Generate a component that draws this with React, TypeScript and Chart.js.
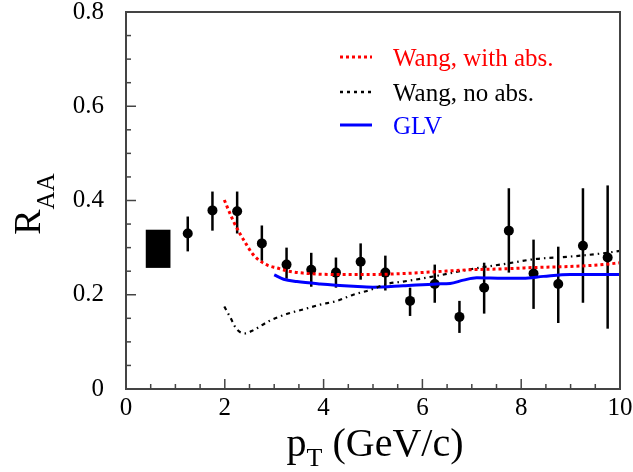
import React, { useEffect, useRef } from "react";
import { Chart, registerables } from "chart.js";

Chart.register(...registerables);

// ---- Data ----
const ptBins = [1.25, 1.75, 2.25, 2.75, 3.25, 3.75, 4.25, 4.75, 5.25, 5.75, 6.25, 6.75, 7.25, 7.75, 8.25, 8.75, 9.25, 9.75];
const raaValues = [0.33, 0.379, 0.377, 0.309, 0.264, 0.253, 0.247, 0.27, 0.247, 0.187, 0.223, 0.153, 0.215, 0.336, 0.245, 0.223, 0.304, 0.279];
const raaErrLow = [0.292, 0.336, 0.33, 0.272, 0.234, 0.217, 0.215, 0.232, 0.209, 0.155, 0.183, 0.119, 0.16, 0.247, 0.17, 0.14, 0.183, 0.128];
const raaErrHigh = [0.366, 0.419, 0.419, 0.347, 0.3, 0.289, 0.279, 0.309, 0.283, 0.215, 0.264, 0.187, 0.268, 0.426, 0.317, 0.302, 0.426, 0.432];

// normalisation uncertainty box: [ptMin, ptMax, raaMin, raaMax]
const normBox = [0.4, 0.9, 0.257, 0.338];

const wangAbsPt = [1.99, 2.17, 2.31, 2.43, 2.56, 2.71, 2.88, 3.05, 3.25, 3.58, 4.26, 4.94, 5.61, 6.29, 6.96, 7.64, 8.31, 8.99, 9.66, 10.0];
const wangAbsRaa = [0.401, 0.357, 0.329, 0.308, 0.287, 0.272, 0.262, 0.257, 0.251, 0.246, 0.243, 0.243, 0.245, 0.249, 0.253, 0.255, 0.258, 0.26, 0.264, 0.268];

const wangNoAbsPt = [1.99, 2.11, 2.24, 2.41, 2.58, 2.91, 3.25, 3.59, 3.93, 4.27, 4.6, 4.97, 5.28, 5.61, 6.29, 6.96, 7.64, 8.31, 8.99, 9.66, 10.0];
const wangNoAbsRaa = [0.175, 0.152, 0.127, 0.118, 0.125, 0.145, 0.159, 0.169, 0.179, 0.187, 0.2, 0.211, 0.223, 0.228, 0.24, 0.254, 0.265, 0.276, 0.281, 0.288, 0.293];

const glvPt = [3.0, 3.19, 3.46, 3.93, 4.6, 5.0, 5.61, 6.29, 6.56, 6.83, 7.1, 7.64, 8.04, 8.45, 8.99, 10.0];
const glvRaa = [0.242, 0.233, 0.228, 0.223, 0.218, 0.216, 0.219, 0.223, 0.224, 0.231, 0.236, 0.235, 0.235, 0.239, 0.243, 0.243];

const legendLabels = ["Wang, with abs.", "Wang, no abs.", "GLV"];
const legendColors = ["#ff0000", "#000000", "#0000ff"];

const xMin = 0, xMax = 10, xMajor = 2, xMinor = 0.5;
const yMin = 0, yMax = 0.8, yMajor = 0.2, yMinor = 0.05;

const FONT = "'Liberation Serif', 'Times New Roman', serif";
const BLACK_DASH = [4, 4, 1.5, 4];
const RED_DASH = [3, 3];

const toXY = (xs: number[], ys: number[]) => xs.map((x, i) => ({ x, y: ys[i] }));

const decorPlugin = {
  id: "decor",
  beforeDatasetsDraw(chart: any) {
    const { ctx, scales } = chart;
    const xs = scales.x, ys = scales.y;
    ctx.save();
    // normalisation box
    const bx0 = xs.getPixelForValue(normBox[0]);
    const bx1 = xs.getPixelForValue(normBox[1]);
    const by0 = ys.getPixelForValue(normBox[2]);
    const by1 = ys.getPixelForValue(normBox[3]);
    ctx.fillStyle = "#000";
    ctx.fillRect(bx0, by1, bx1 - bx0, by0 - by1);
    // error bars
    ctx.strokeStyle = "#000";
    ctx.lineWidth = 2.5;
    ptBins.forEach((pt, i) => {
      const px = xs.getPixelForValue(pt);
      ctx.beginPath();
      ctx.moveTo(px, ys.getPixelForValue(raaErrLow[i]));
      ctx.lineTo(px, ys.getPixelForValue(raaErrHigh[i]));
      ctx.stroke();
    });
    ctx.restore();
  },
  afterDraw(chart: any) {
    const { ctx, chartArea, scales } = chart;
    const { left, right, top, bottom } = chartArea;
    const xs = scales.x, ys = scales.y;
    ctx.save();
    // frame
    ctx.strokeStyle = "#444";
    ctx.lineWidth = 2;
    ctx.strokeRect(left, top, right - left, bottom - top);
    // x ticks
    ctx.lineWidth = 1.5;
    for (let v = xMin; v <= xMax + 1e-9; v += xMinor) {
      const px = xs.getPixelForValue(v);
      const major = Math.abs(v / xMajor - Math.round(v / xMajor)) < 1e-6;
      const len = major ? 10 : 5;
      ctx.beginPath();
      ctx.moveTo(px, bottom);
      ctx.lineTo(px, bottom - len);
      ctx.stroke();
    }
    for (let v = yMin; v <= yMax + 1e-9; v += yMinor) {
      const py = ys.getPixelForValue(v);
      const major = Math.abs(v / yMajor - Math.round(v / yMajor)) < 1e-6;
      const len = major ? 10 : 5;
      ctx.beginPath();
      ctx.moveTo(left, py);
      ctx.lineTo(left + len, py);
      ctx.stroke();
    }

    // legend
    const lx0 = left + 214, lx1 = left + 246, tx = left + 267;
    const rows = [top + 45, top + 80, top + 113];
    const dashes = [RED_DASH, [3, 4], []];
    const widths = [3, 2.5, 3];
    legendLabels.forEach((lab, i) => {
      ctx.strokeStyle = legendColors[i];
      ctx.lineWidth = widths[i];
      ctx.setLineDash(dashes[i]);
      ctx.beginPath();
      ctx.moveTo(lx0, rows[i]);
      ctx.lineTo(lx1, rows[i]);
      ctx.stroke();
      ctx.setLineDash([]);
      ctx.fillStyle = legendColors[i];
      ctx.font = `25px ${FONT}`;
      ctx.textAlign = "left";
      ctx.textBaseline = "alphabetic";
      ctx.fillText(lab, tx, rows[i] + 9);
    });

    // x-axis title: p_T (GeV/c)
    ctx.fillStyle = "#000";
    ctx.textAlign = "left";
    ctx.textBaseline = "alphabetic";
    const xtY = bottom + 67;
    ctx.font = `40px ${FONT}`;
    const pW = ctx.measureText("p").width;
    ctx.font = `26px ${FONT}`;
    const tW = ctx.measureText("T").width;
    ctx.font = `40px ${FONT}`;
    const restW = ctx.measureText(" (GeV/c)").width;
    const total = pW + tW + restW;
    let cx = (left + right) / 2 - total / 2 + 2;
    ctx.fillText("p", cx, xtY);
    cx += pW;
    ctx.font = `26px ${FONT}`;
    ctx.fillText("T", cx, xtY + 10);
    cx += tW;
    ctx.font = `40px ${FONT}`;
    ctx.fillText(" (GeV/c)", cx, xtY);

    // y-axis title: R_AA
    ctx.save();
    ctx.translate(40, 0);
    ctx.rotate(-Math.PI / 2);
    ctx.font = `38px ${FONT}`;
    const rW = ctx.measureText("R").width;
    ctx.font = `25px ${FONT}`;
    const aW = ctx.measureText("AA").width;
    const yc = 204;
    const start = -(yc + (rW + aW) / 2);
    ctx.font = `38px ${FONT}`;
    ctx.fillText("R", start, 0);
    ctx.font = `25px ${FONT}`;
    ctx.fillText("AA", start + rW, 14);
    ctx.restore();

    ctx.restore();
  },
};

export default function App() {
  const ref = useRef<HTMLCanvasElement | null>(null);

  useEffect(() => {
    if (!ref.current) return;
    const chart = new Chart(ref.current, {
      type: "scatter",
      data: {
        datasets: [
          {
            label: legendLabels[0],
            data: toXY(wangAbsPt, wangAbsRaa),
            showLine: true,
            borderColor: "#ff0000",
            borderWidth: 3,
            borderDash: RED_DASH,
            pointRadius: 0,
            cubicInterpolationMode: "monotone",
          },
          {
            label: legendLabels[1],
            data: toXY(wangNoAbsPt, wangNoAbsRaa),
            showLine: true,
            borderColor: "#000000",
            borderWidth: 2.2,
            borderDash: BLACK_DASH,
            pointRadius: 0,
            cubicInterpolationMode: "monotone",
          },
          {
            label: legendLabels[2],
            data: toXY(glvPt, glvRaa),
            showLine: true,
            borderColor: "#0000ff",
            borderWidth: 3,
            pointRadius: 0,
            cubicInterpolationMode: "monotone",
          },
          {
            label: "data",
            data: toXY(ptBins, raaValues),
            showLine: false,
            pointRadius: 5,
            pointBackgroundColor: "#000",
            pointBorderWidth: 0,
            borderColor: "#000",
          },
        ],
      },
      options: {
        responsive: false,
        animation: false,
        events: [],
        layout: { padding: { left: 0, top: 12, right: 13, bottom: 0 } },
        plugins: { legend: { display: false }, tooltip: { enabled: false } },
        scales: {
          x: {
            type: "linear",
            min: xMin,
            max: xMax,
            grid: { display: false },
            border: { display: false },
            ticks: {
              stepSize: xMajor,
              color: "#000",
              font: { family: FONT, size: 25 },
              padding: -4,
              maxRotation: 0,
              autoSkip: false,
            },
            afterFit: (s: any) => {
              s.height = 83;
              s.paddingLeft = 0;
              s.paddingRight = 0;
            },
          },
          y: {
            type: "linear",
            min: yMin,
            max: yMax,
            grid: { display: false },
            border: { display: false },
            ticks: {
              stepSize: yMajor,
              color: "#000",
              font: { family: FONT, size: 25 },
              padding: 14,
              autoSkip: false,
            },
            afterFit: (s: any) => {
              s.width = 126;
              s.paddingTop = 0;
              s.paddingBottom = 0;
            },
          },
        },
      },
      plugins: [decorPlugin],
    });
    return () => chart.destroy();
  }, []);

  return (
    <div style={{ position: "absolute", left: 0, top: 0, width: 633, height: 472, background: "#fff" }}>
      <canvas ref={ref} width={633} height={472} style={{ display: "block" }} />
    </div>
  );
}
